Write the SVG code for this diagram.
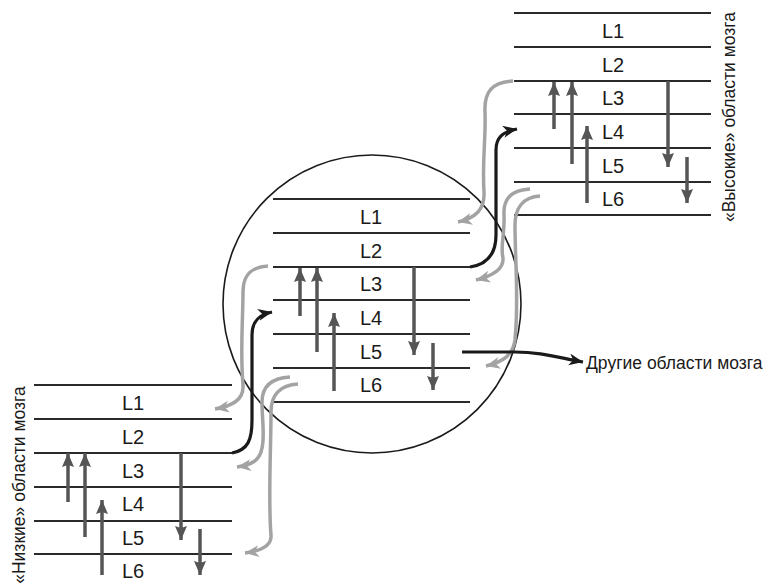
<svg xmlns="http://www.w3.org/2000/svg" width="766" height="586" viewBox="0 0 766 586">
<style>
.ln{stroke:#2a2a2a;stroke-width:2.2;fill:none}
.lbl{font-family:"Liberation Sans",Arial,sans-serif;font-size:20px;fill:#1a1a1a;text-anchor:middle}
.va{stroke:#555;stroke-width:3.5;fill:none;marker-end:url(#hd)}
.gc{stroke:#a3a3a3;stroke-width:3.5;fill:none;marker-end:url(#hg)}
.bc{stroke:#1a1a1a;stroke-width:3.2;fill:none;marker-end:url(#hb)}
.cap{font-family:"Liberation Sans",Arial,sans-serif;font-size:17.5px;fill:#1a1a1a}
</style>
<defs>
<marker id="hd" markerUnits="userSpaceOnUse" markerWidth="16" markerHeight="14" refX="14" refY="6" orient="auto"><path d="M0,0 L14,6 L0,12 L2,6 z" fill="#555"/></marker>
<marker id="hg" markerUnits="userSpaceOnUse" markerWidth="16" markerHeight="14" refX="14" refY="6" orient="auto"><path d="M0,0 L14,6 L0,12 L4,6 z" fill="#a3a3a3"/></marker>
<marker id="hb" markerUnits="userSpaceOnUse" markerWidth="16" markerHeight="14" refX="14" refY="6" orient="auto"><path d="M0,0 L14,6 L0,12 L4,6 z" fill="#1a1a1a"/></marker>
</defs>
<rect width="766" height="586" fill="#fff"/>

<g id="circle"><circle cx="372" cy="304" r="149" fill="none" stroke="#1a1a1a" stroke-width="1.6"/></g>

<g id="high">
<path class="ln" d="M514,13H711M514,47H711M514,81H711M514,114H711M514,148H711M514,182H711M514,215H711"/>
<text class="lbl" x="613" y="38">L1</text>
<text class="lbl" x="613" y="72">L2</text>
<text class="lbl" x="613" y="105">L3</text>
<text class="lbl" x="613" y="139">L4</text>
<text class="lbl" x="613" y="173">L5</text>
<text class="lbl" x="613" y="206">L6</text>
<path class="va" d="M554,129V82"/>
<path class="va" d="M572,164V82"/>
<path class="va" d="M587,203V126"/>
<path class="va" d="M668,81V167"/>
<path class="va" d="M687,157V203"/>
<text class="cap" transform="translate(735,117) rotate(-90)" text-anchor="middle">«Высокие» области мозга</text>
</g>

<g id="middle">
<path class="ln" d="M273,199H470M273,233H470M273,267H470M273,300H470M273,334H470M273,368H470M273,402H470"/>
<text class="lbl" x="371" y="224">L1</text>
<text class="lbl" x="371" y="258">L2</text>
<text class="lbl" x="371" y="291">L3</text>
<text class="lbl" x="371" y="325">L4</text>
<text class="lbl" x="371" y="359">L5</text>
<text class="lbl" x="371" y="392">L6</text>
<path class="va" d="M300,316V268"/>
<path class="va" d="M317,352V268"/>
<path class="va" d="M334,391V313"/>
<path class="va" d="M414,267V355"/>
<path class="va" d="M433,343V390"/>
</g>

<g id="low">
<path class="ln" d="M34,385H232M34,419H232M34,453H232M34,487H232M34,521H232M34,554H232"/>
<text class="lbl" x="133" y="410">L1</text>
<text class="lbl" x="133" y="444">L2</text>
<text class="lbl" x="133" y="478">L3</text>
<text class="lbl" x="133" y="511">L4</text>
<text class="lbl" x="133" y="545">L5</text>
<text class="lbl" x="133" y="578">L6</text>
<path class="va" d="M68,502V453"/>
<path class="va" d="M85,537V453"/>
<path class="va" d="M102,575V500"/>
<path class="va" d="M181,453V540"/>
<path class="va" d="M200,529V575"/>
<text class="cap" transform="translate(25,485) rotate(-90)" text-anchor="middle">«Низкие» области мозга</text>
</g>

<g id="other">
<text class="cap" x="586" y="369" font-size="17">Другие области мозга</text>
</g>

<g id="connectors">
<path class="gc" d="M513,81 C492,82 484,92 485,112 C486,140 482,160 484,192 C485,210 475,218 458,222"/>
<path class="gc" d="M530,189 C512,190 503,198 504,215 C505,235 500,245 503,258 C504,270 492,276 476,280"/>
<path class="gc" d="M540,196 C523,197 515,208 515,225 C515,260 519,300 515,340 C513,355 503,362 486,366"/>
<path class="gc" d="M268,266 C250,267 243,276 243,292 C243,320 240,350 243,385 C244,400 232,406 215,409"/>
<path class="gc" d="M290,377 C272,378 262,386 262,402 C262,420 265,435 262,448 C260,460 252,465 237,467"/>
<path class="gc" d="M298,384 C280,385 271,395 271,412 C271,450 268,500 271,535 C272,546 260,551 245,553"/>
<path class="bc" d="M232,453 C248,450 252,440 252,420 L252,335 C252,322 258,315 272,312"/>
<path class="bc" d="M470,267 C490,264 496,250 496,235 L496,150 C496,138 502,132 517,129"/>
<path class="bc" d="M462,352 L515,352 C540,352 556,357 583,362"/>
</g>
</svg>
